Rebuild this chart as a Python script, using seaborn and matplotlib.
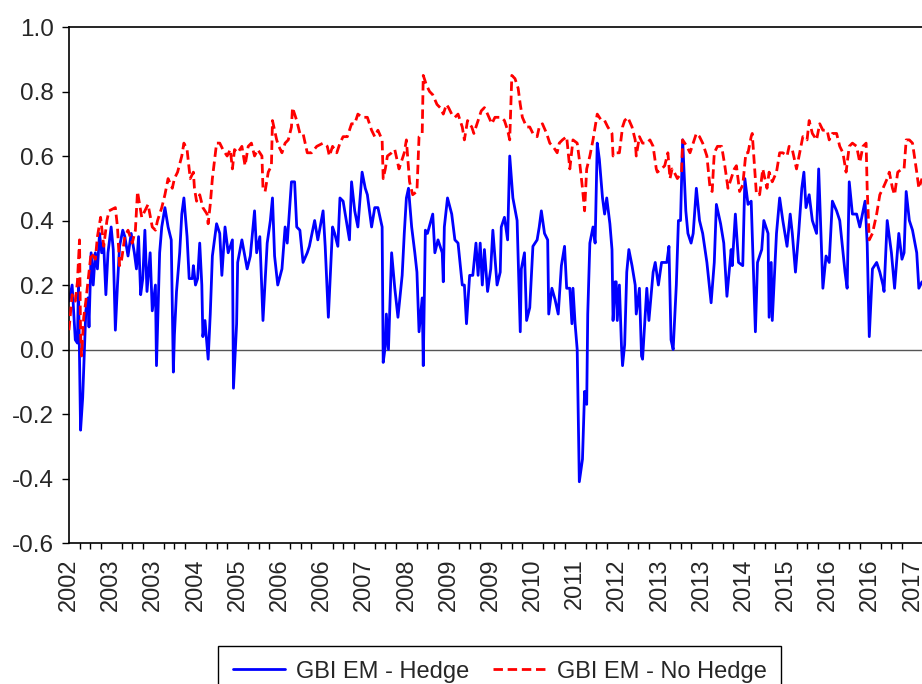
import numpy as np
import pandas as pd
import matplotlib
matplotlib.use("Agg")
import matplotlib.pyplot as plt
from matplotlib.ticker import FixedLocator, MultipleLocator
import seaborn as sns

# weekly observation index at which each value was read, and the correlation value
hedge_obs = [0, 3, 6, 8, 9, 11, 13, 16, 18, 19, 21, 23, 25, 27, 29, 31, 33, 35, 37, 40,
             42, 44, 46, 48, 51, 53, 56, 59, 62, 64, 66, 68, 70, 72, 74, 77, 79, 82, 83, 86,
             88, 91, 94, 97, 99, 100, 102, 105, 107, 109, 112, 114, 117, 118, 120, 122, 124, 126, 127, 129,
             132, 134, 136, 140, 143, 145, 148, 151, 155, 156, 159, 160, 164, 169, 172, 176, 178, 181, 184, 188,
             191, 193, 195, 198, 202, 205, 207, 211, 214, 216, 219, 222, 226, 228, 233, 236, 241, 243, 246, 250,
             252, 255, 257, 260, 264, 266, 268, 271, 274, 278, 281, 283, 287, 290, 293, 297, 298, 300, 301, 303,
             306, 309, 312, 316, 318, 320, 322, 325, 328, 330, 332, 335, 336, 338, 340, 345, 347, 350, 354, 355,
             356, 359, 363, 366, 369, 373, 375, 377, 380, 383, 386, 388, 390, 392, 394, 397, 400, 402, 406, 409,
             410, 413, 416, 418, 421, 425, 428, 429, 432, 434, 437, 440, 444, 446, 448, 451, 454, 455, 458, 461,
             464, 467, 470, 472, 475, 477, 478, 480, 482, 484, 487, 489, 491, 492, 494, 497, 499, 501, 503, 506,
             508, 510, 513, 515, 516, 518, 519, 520, 522, 524, 525, 527, 529, 531, 534, 537, 538, 541, 543, 544,
             548, 550, 554, 556, 559, 562, 567, 569, 571, 573, 576, 578, 580, 582, 585, 587, 590, 592, 595, 598,
             601, 605, 609, 612, 614, 618, 621, 624, 628, 629, 632, 635, 639, 641, 644, 647, 651, 653, 657, 659,
             663, 664, 666, 667, 671, 674, 677, 681, 684, 686, 689, 692, 695, 697, 699, 702, 705, 709, 711, 715,
             718, 721, 724, 728, 731, 736, 738, 740, 743, 747, 750, 755, 757, 759, 762, 766, 769, 772, 773, 776,
             780, 783, 787, 790, 792, 794, 797, 800, 804, 806, 809]
hedge = [0.15, 0.20, 0.03, 0.02, 0.20, -0.25, -0.15, 0.12, 0.16, 0.07, 0.30, 0.20, 0.30, 0.25, 0.36, 0.30, 0.32, 0.17, 0.30, 0.38,
         0.31, 0.06, 0.20, 0.32, 0.37, 0.35, 0.29, 0.36, 0.30, 0.25, 0.35, 0.17, 0.22, 0.37, 0.18, 0.30, 0.12, 0.20, -0.05, 0.30,
         0.38, 0.44, 0.38, 0.34, -0.07, 0.045, 0.18, 0.30, 0.42, 0.47, 0.35, 0.22, 0.22, 0.26, 0.20, 0.22, 0.33, 0.20, 0.04, 0.09,
         -0.03, 0.11, 0.29, 0.39, 0.36, 0.23, 0.38, 0.30, 0.34, -0.12, 0.08, 0.27, 0.34, 0.25, 0.29, 0.43, 0.30, 0.35, 0.09, 0.33,
         0.40, 0.47, 0.29, 0.20, 0.25, 0.38, 0.33, 0.52, 0.52, 0.38, 0.37, 0.27, 0.30, 0.32, 0.40, 0.34, 0.43, 0.32, 0.10, 0.38,
         0.36, 0.32, 0.47, 0.46, 0.38, 0.34, 0.52, 0.43, 0.38, 0.55, 0.50, 0.48, 0.38, 0.44, 0.44, 0.38, -0.04, 0.01, 0.11, 0.00,
         0.30, 0.19, 0.10, 0.23, 0.36, 0.47, 0.50, 0.38, 0.30, 0.24, 0.055, 0.16, -0.05, 0.37, 0.36, 0.42, 0.30, 0.34, 0.30, 0.21,
         0.38, 0.47, 0.42, 0.34, 0.33, 0.20, 0.20, 0.08, 0.23, 0.23, 0.33, 0.23, 0.33, 0.20, 0.31, 0.18, 0.25, 0.37, 0.20, 0.24,
         0.38, 0.41, 0.34, 0.60, 0.47, 0.40, 0.055, 0.25, 0.30, 0.09, 0.13, 0.32, 0.34, 0.38, 0.43, 0.36, 0.34, 0.11, 0.19, 0.155,
         0.11, 0.26, 0.32, 0.19, 0.19, 0.08, 0.19, 0.08, 0.00, -0.41, -0.34, -0.13, -0.17, 0.11, 0.33, 0.38, 0.33, 0.64, 0.59, 0.47,
         0.42, 0.47, 0.39, 0.31, 0.09, 0.21, 0.21, 0.09, 0.20, 0.01, -0.05, 0.015, 0.24, 0.31, 0.26, 0.20, 0.11, 0.19, -0.02, -0.03,
         0.19, 0.09, 0.24, 0.27, 0.20, 0.27, 0.27, 0.32, 0.03, 0.00, 0.20, 0.40, 0.40, 0.65, 0.43, 0.36, 0.33, 0.36, 0.50, 0.40,
         0.36, 0.27, 0.145, 0.27, 0.45, 0.39, 0.33, 0.165, 0.31, 0.26, 0.42, 0.27, 0.26, 0.53, 0.45, 0.46, 0.055, 0.27, 0.31, 0.40,
         0.36, 0.10, 0.27, 0.09, 0.36, 0.47, 0.40, 0.32, 0.42, 0.36, 0.24, 0.36, 0.50, 0.55, 0.44, 0.48, 0.40, 0.36, 0.56, 0.19,
         0.29, 0.27, 0.46, 0.43, 0.40, 0.24, 0.19, 0.52, 0.42, 0.42, 0.38, 0.46, 0.33, 0.04, 0.25, 0.27, 0.24, 0.20, 0.18, 0.40,
         0.30, 0.19, 0.36, 0.28, 0.30, 0.49, 0.40, 0.37, 0.30, 0.19, 0.21]

nohedge_obs = [0, 3, 6, 8, 10, 11, 12, 14, 16, 18, 21, 25, 27, 30, 33, 36, 38, 44, 46, 48,
               50, 53, 56, 60, 63, 65, 69, 72, 75, 79, 82, 84, 88, 91, 94, 98, 100, 103, 107, 109,
               112, 115, 118, 119, 121, 124, 127, 131, 132, 134, 136, 140, 143, 146, 150, 153, 155, 157, 160, 164,
               167, 170, 173, 176, 179, 183, 184, 186, 189, 192, 193, 197, 199, 202, 205, 208, 211, 212, 216, 219,
               222, 226, 230, 235, 241, 245, 247, 250, 254, 257, 260, 264, 268, 271, 274, 278, 281, 283, 287, 290,
               293, 297, 298, 300, 302, 306, 309, 313, 316, 318, 320, 323, 326, 330, 332, 335, 336, 339, 342, 345,
               349, 352, 355, 358, 360, 363, 366, 369, 373, 375, 378, 382, 384, 387, 391, 394, 397, 401, 404, 407,
               410, 413, 416, 418, 420, 423, 426, 428, 430, 434, 437, 440, 444, 446, 449, 453, 456, 459, 463, 465,
               468, 472, 475, 478, 482, 484, 487, 489, 491, 494, 497, 500, 501, 505, 508, 511, 515, 516, 519, 522,
               525, 527, 530, 534, 537, 538, 541, 544, 548, 551, 554, 557, 558, 562, 565, 568, 570, 572, 574, 577,
               581, 582, 586, 589, 592, 595, 598, 601, 605, 608, 610, 612, 615, 619, 622, 625, 628, 631, 633, 636,
               639, 642, 644, 647, 648, 652, 655, 658, 662, 664, 667, 671, 674, 677, 681, 683, 686, 690, 693, 696,
               700, 702, 705, 709, 712, 715, 719, 721, 724, 728, 731, 734, 737, 740, 743, 747, 750, 753, 756, 757,
               759, 762, 766, 769, 772, 776, 778, 781, 783, 786, 790, 792, 794, 797, 800, 804, 806, 809]
nohedge = [0.06, 0.17, 0.15, 0.21, 0.34, 0.05, -0.02, 0.10, 0.15, 0.21, 0.30, 0.28, 0.35, 0.41, 0.32, 0.40, 0.43, 0.44, 0.38, 0.26,
           0.28, 0.35, 0.37, 0.33, 0.37, 0.49, 0.41, 0.43, 0.45, 0.38, 0.37, 0.40, 0.44, 0.48, 0.53, 0.50, 0.53, 0.55, 0.60, 0.64,
           0.62, 0.53, 0.55, 0.50, 0.46, 0.48, 0.44, 0.42, 0.39, 0.45, 0.53, 0.64, 0.64, 0.62, 0.60, 0.62, 0.56, 0.62, 0.61, 0.63,
           0.57, 0.63, 0.64, 0.60, 0.62, 0.60, 0.50, 0.49, 0.55, 0.57, 0.71, 0.65, 0.63, 0.61, 0.64, 0.65, 0.69, 0.75, 0.71, 0.67,
           0.67, 0.61, 0.61, 0.63, 0.64, 0.63, 0.60, 0.63, 0.61, 0.64, 0.66, 0.66, 0.70, 0.70, 0.73, 0.72, 0.72, 0.72, 0.68, 0.66,
           0.68, 0.65, 0.53, 0.56, 0.60, 0.61, 0.62, 0.56, 0.59, 0.61, 0.65, 0.52, 0.48, 0.49, 0.66, 0.67, 0.85, 0.82, 0.80, 0.79,
           0.76, 0.75, 0.73, 0.76, 0.75, 0.73, 0.72, 0.73, 0.69, 0.65, 0.71, 0.69, 0.67, 0.70, 0.74, 0.75, 0.73, 0.70, 0.72, 0.72,
           0.72, 0.71, 0.68, 0.65, 0.85, 0.84, 0.81, 0.76, 0.72, 0.69, 0.69, 0.67, 0.66, 0.69, 0.70, 0.67, 0.64, 0.63, 0.61, 0.64,
           0.65, 0.66, 0.56, 0.65, 0.64, 0.59, 0.50, 0.43, 0.56, 0.60, 0.65, 0.71, 0.73, 0.71, 0.71, 0.69, 0.67, 0.60, 0.61, 0.61,
           0.69, 0.71, 0.72, 0.69, 0.65, 0.60, 0.66, 0.64, 0.64, 0.65, 0.63, 0.56, 0.55, 0.56, 0.57, 0.61, 0.53, 0.56, 0.55, 0.53,
           0.55, 0.65, 0.63, 0.61, 0.64, 0.67, 0.66, 0.64, 0.60, 0.50, 0.49, 0.61, 0.63, 0.63, 0.57, 0.50, 0.53, 0.56, 0.57, 0.49,
           0.51, 0.61, 0.61, 0.66, 0.67, 0.48, 0.48, 0.56, 0.50, 0.55, 0.52, 0.55, 0.61, 0.61, 0.60, 0.63, 0.62, 0.56, 0.61, 0.66,
           0.65, 0.71, 0.67, 0.65, 0.70, 0.68, 0.68, 0.65, 0.67, 0.67, 0.63, 0.61, 0.55, 0.63, 0.64, 0.63, 0.58, 0.63, 0.64, 0.50,
           0.34, 0.36, 0.42, 0.48, 0.50, 0.53, 0.55, 0.50, 0.48, 0.55, 0.56, 0.56, 0.65, 0.65, 0.64, 0.55, 0.50, 0.53]

year_labels = ["2002", "2003", "2003", "2004", "2005", "2006", "2006", "2007", "2008", "2009", "2009",
               "2010", "2011", "2012", "2013", "2013", "2014", "2015", "2016", "2016", "2017"]

df_h = pd.DataFrame({"obs": hedge_obs, "value": hedge})
df_n = pd.DataFrame({"obs": nohedge_obs, "value": nohedge})

sns.set_style("white")
plt.rcParams["font.family"] = ["Liberation Sans", "DejaVu Sans"]
plt.rcParams["font.size"] = 17

fig = plt.figure(figsize=(9.22, 6.84), dpi=100)
ax = fig.add_axes([0.0748, 0.2061, 0.9252, 0.7544])

ax.axhline(0, color="#555555", lw=1.0, zorder=1)
sns.lineplot(data=df_n, x="obs", y="value", ax=ax, color="#ff0000", lw=2.0,
             linestyle=(0, (3.4, 1.7)), label="GBI EM - No Hedge", zorder=3)
sns.lineplot(data=df_h, x="obs", y="value", ax=ax, color="#0000ff", lw=2.0,
             label="GBI EM - Hedge", zorder=2)

ax.set_xlim(0, 809)
ax.set_ylim(-0.6, 1.0)
ax.set_yticks(np.arange(-0.6, 1.01, 0.2))
ax.set_yticklabels([f"{v:.1f}" for v in np.arange(-0.6, 1.01, 0.2)])
ax.xaxis.set_major_locator(FixedLocator(np.arange(0, 801, 40)))
ax.set_xticklabels(year_labels, rotation=90, va="top", ha="center")
ax.xaxis.set_minor_locator(MultipleLocator(10))
ax.set_xlabel("")
ax.set_ylabel("")

ax.tick_params(axis="x", which="major", direction="out", length=8, width=1, color="black", pad=3, labelsize=17)
ax.tick_params(axis="x", which="minor", direction="out", length=4.5, width=1, color="black", bottom=True)
ax.tick_params(axis="y", which="major", direction="out", length=5, width=1, color="black", pad=6, labelsize=17.5, left=True)

for side in ["left", "top", "bottom"]:
    ax.spines[side].set_visible(True)
    ax.spines[side].set_color("black")
    ax.spines[side].set_linewidth(1.2)
ax.spines["right"].set_visible(False)

handles, labels = ax.get_legend_handles_labels()
if ax.get_legend() is not None:
    ax.get_legend().remove()
order = [labels.index("GBI EM - Hedge"), labels.index("GBI EM - No Hedge")]
leg = fig.legend([handles[i] for i in order], [labels[i] for i in order],
                 loc="upper center", bbox_to_anchor=(0.542, 0.055), ncol=2,
                 frameon=True, fancybox=False, edgecolor="black", framealpha=1,
                 fontsize=17, handlelength=2.2, columnspacing=1.0, handletextpad=0.5,
                 borderpad=0.6, borderaxespad=0)
leg.get_frame().set_linewidth(1.0)

plt.savefig("out.png", dpi=100)
